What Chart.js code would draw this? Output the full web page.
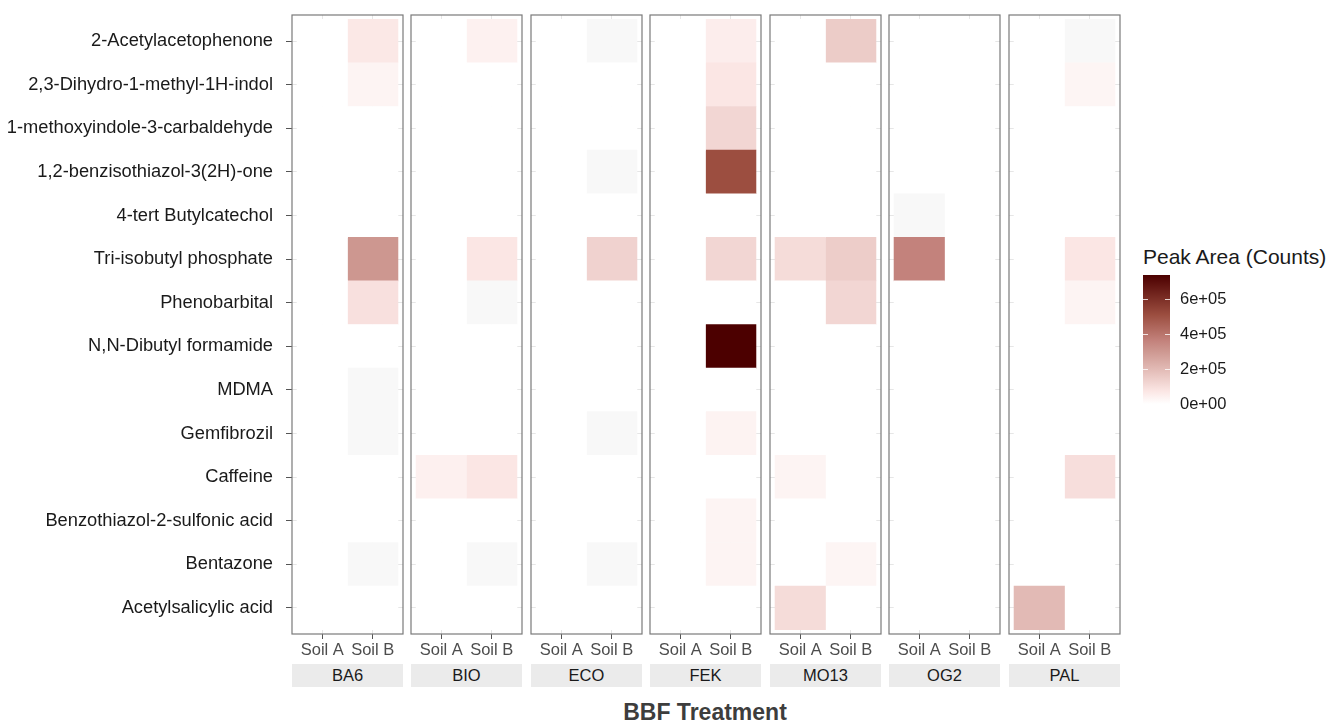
<!DOCTYPE html>
<html>

<head>
    <title>BBF Treatment peak areas</title>
    <script src="https://cdn.jsdelivr.net/npm/chart.js@4.4.1/dist/chart.umd.min.js"></script>
    <style>
        body {
            margin: 0;
            background-color: white;
            font-family: "Liberation Sans", Arial, sans-serif;
        }

        #wrap {
            position: relative;
            width: 1328px;
            height: 725px;
            overflow: hidden;
        }

        #wrap canvas {
            position: absolute;
        }

        .strip {
            position: absolute;
            top: 664px;
            height: 23px;
            line-height: 23px;
            background-color: #ebebeb;
            color: #1a1a1a;
            font-size: 16.5px;
            text-align: center;
        }

        #xtitle {
            position: absolute;
            left: 505px;
            width: 400px;
            top: 699px;
            line-height: 26px;
            text-align: center;
            font-size: 23px;
            font-weight: bold;
            color: #3d3d3d;
        }

        #legtitle {
            position: absolute;
            left: 1143px;
            top: 244px;
            line-height: 26px;
            font-size: 21px;
            color: #1a1a1a;
            white-space: nowrap;
        }
    </style>
</head>

<body>
    <div id="wrap">
        <div id="xtitle">BBF Treatment</div>
        <div id="legtitle">Peak Area (Counts)</div>
    </div>

    <script>
        const compounds = ['2-Acetylacetophenone', '2,3-Dihydro-1-methyl-1H-indol', '1-methoxyindole-3-carbaldehyde',
            '1,2-benzisothiazol-3(2H)-one', '4-tert Butylcatechol', 'Tri-isobutyl phosphate', 'Phenobarbital',
            'N,N-Dibutyl formamide', 'MDMA', 'Gemfibrozil', 'Caffeine', 'Benzothiazol-2-sulfonic acid', 'Bentazone',
            'Acetylsalicylic acid']
        const treatments = ['BA6', 'BIO', 'ECO', 'FEK', 'MO13', 'OG2', 'PAL']
        const soils = ['Soil A', 'Soil B']
        const legendTicks = [0, 200000, 400000, 600000]

        // peak area per compound, same order as compounds; null = NA (grey tile)
        const ba6SoilA = [0, 0, 0, 0, 0, 0, 0, 0, 0, 0, 0, 0, 0, 0]
        const ba6SoilB = [67000, 32000, 0, 0, 0, 303000, 90000, 0, null, null, 0, 0, null, 0]
        const bioSoilA = [0, 0, 0, 0, 0, 0, 0, 0, 0, 0, 44000, 0, 0, 0]
        const bioSoilB = [41000, 0, 0, 0, 0, 73000, null, 0, 0, 0, 73000, 0, null, 0]
        const ecoSoilA = [0, 0, 0, 0, 0, 0, 0, 0, 0, 0, 0, 0, 0, 0]
        const ecoSoilB = [null, 0, 0, null, 0, 131000, 0, 0, 0, null, 0, 0, null, 0]
        const fekSoilA = [0, 0, 0, 0, 0, 0, 0, 0, 0, 0, 0, 0, 0, 0]
        const fekSoilB = [52000, 73000, 120000, 509000, 0, 120000, 0, 738000, 0, 35000, 0, 32000, 32000, 0]
        const mo13SoilA = [0, 0, 0, 0, 0, 102000, 0, 0, 0, 0, 32000, 0, 0, 102000]
        const mo13SoilB = [149000, 0, 0, 0, 0, 146000, 120000, 0, 0, 0, 0, 0, 30000, 0]
        const og2SoilA = [0, 0, 0, 0, null, 362000, 0, 0, 0, 0, 0, 0, 0, 0]
        const og2SoilB = [0, 0, 0, 0, 0, 0, 0, 0, 0, 0, 0, 0, 0, 0]
        const palSoilA = [0, 0, 0, 0, 0, 0, 0, 0, 0, 0, 0, 0, 0, 200000]
        const palSoilB = [null, 29000, 0, 0, 0, 73000, 32000, 0, 0, 0, 96000, 0, 0, 0]

        const panelSeries = [
            [ba6SoilA, ba6SoilB], [bioSoilA, bioSoilB], [ecoSoilA, ecoSoilB], [fekSoilA, fekSoilB],
            [mo13SoilA, mo13SoilB], [og2SoilA, og2SoilB], [palSoilA, palSoilB]
        ]
        const peakMax = Math.max(...panelSeries.flat(2).filter(v => v !== null))

        // fill scale, fraction of max -> rgb
        const colorStops = [
            [0, [255, 255, 255]], [0.10, [251, 230, 228]], [0.27, [226, 186, 181]], [0.41, [205, 151, 144]],
            [0.49, [195, 130, 124]], [0.69, [156, 78, 64]], [1, [76, 0, 0]]
        ]
        const naColor = '#f8f8f8'

        function fillFor(v) {
            if (v === null || v === undefined) return naColor
            const f = Math.max(0, Math.min(1, v / peakMax))
            for (let i = 1; i < colorStops.length; i++) {
                const [f0, c0] = colorStops[i - 1]
                const [f1, c1] = colorStops[i]
                if (f <= f1) {
                    const t = (f - f0) / (f1 - f0)
                    return 'rgb(' + c0.map((c, k) => Math.round(c + (c1[k] - c) * t)).join(',') + ')'
                }
            }
            return 'rgb(' + colorStops[colorStops.length - 1][1].join(',') + ')'
        }

        Chart.defaults.font.family = '"Liberation Sans", Arial, sans-serif'

        // no extra room for overhanging tick labels, the layout is fixed
        function noPad(axis) {
            axis.paddingTop = 0
            axis.paddingBottom = 0
            axis.paddingLeft = 0
            axis.paddingRight = 0
        }

        const panelBorder = {
            id: 'panelBorder',
            afterDraw(chart) {
                const { ctx, chartArea: a } = chart
                ctx.save()
                ctx.strokeStyle = '#7a7a7a'
                ctx.lineWidth = 1.2
                ctx.strokeRect(a.left, a.top, a.width, a.height)
                ctx.restore()
            }
        }

        const wrap = document.getElementById('wrap')
        const panelWidth = 111
        const labelWidth = 292

        treatments.forEach((name, p) => {
            const first = p === 0
            const left = Math.round(291.8 + p * 119.45)
            const canvas = document.createElement('canvas')
            canvas.width = first ? labelWidth + panelWidth + 6 : panelWidth + 12
            canvas.height = 662
            canvas.style.left = (first ? 0 : left - 6) + 'px'
            canvas.style.top = '0px'
            wrap.appendChild(canvas)

            const strip = document.createElement('div')
            strip.className = 'strip'
            strip.style.left = left + 'px'
            strip.style.width = panelWidth + 'px'
            strip.textContent = name
            wrap.appendChild(strip)

            const datasets = soils.map((soil, s) => ({
                label: soil,
                grouped: false,
                barPercentage: 1,
                categoryPercentage: 1,
                borderWidth: 0,
                data: compounds.map((c, r) => ({
                    y: compounds.length - r,
                    x: [s + 0.5, s + 1.5],
                    v: panelSeries[p][s][r]
                })),
                backgroundColor: (ctx) => ctx.raw ? fillFor(ctx.raw.v) : '#ffffff'
            }))

            new Chart(canvas, {
                type: 'bar',
                data: { datasets: datasets },
                options: {
                    indexAxis: 'y',
                    responsive: false,
                    animation: false,
                    devicePixelRatio: 1,
                    layout: { padding: { left: first ? 0 : 6, right: 6, top: 15, bottom: 0 } },
                    plugins: { legend: { display: false }, tooltip: { enabled: false } },
                    scales: {
                        x: {
                            type: 'linear',
                            min: 0.4,
                            max: 2.6,
                            beginAtZero: false,
                            afterBuildTicks: (axis) => { axis.ticks = soils.map((s, i) => ({ value: i + 1 })) },
                            afterFit: (axis) => { axis.height = 28; noPad(axis) },
                            grid: { color: '#e6e6e6', tickColor: '#555555', tickLength: 5, lineWidth: 1, offset: false },
                            border: { display: false },
                            ticks: {
                                padding: 2,
                                color: '#4d4d4d',
                                font: { size: 16.5 },
                                maxRotation: 0,
                                autoSkip: false,
                                callback: (v) => soils[v - 1]
                            }
                        },
                        y: {
                            type: 'linear',
                            offset: false,
                            min: 0.4,
                            max: compounds.length + 0.6,
                            afterBuildTicks: (axis) => { axis.ticks = compounds.map((c, i) => ({ value: i + 1 })) },
                            afterFit: (axis) => { axis.width = first ? labelWidth : 0; noPad(axis) },
                            grid: {
                                color: '#e6e6e6', tickColor: '#555555', lineWidth: 1, offset: false,
                                drawTicks: first, tickLength: 6
                            },
                            border: { display: false },
                            ticks: {
                                display: first,
                                autoSkip: false,
                                padding: 13,
                                color: '#1a1a1a',
                                font: { size: 18.3 },
                                callback: (v) => compounds[compounds.length - v]
                            }
                        }
                    }
                },
                plugins: [panelBorder]
            })
        })

        // colour bar legend
        const barTicks = {
            id: 'barTicks',
            afterDatasetsDraw(chart) {
                const { ctx, chartArea: a, scales: { y } } = chart
                ctx.save()
                ctx.strokeStyle = 'rgba(255,255,255,0.8)'
                ctx.lineWidth = 1
                y.ticks.forEach(t => {
                    const py = Math.round(y.getPixelForValue(t.value)) + 0.5
                    ctx.beginPath()
                    ctx.moveTo(a.left, py); ctx.lineTo(a.left + 5, py)
                    ctx.moveTo(a.right - 5, py); ctx.lineTo(a.right, py)
                    ctx.stroke()
                })
                ctx.restore()
            }
        }

        const legCanvas = document.createElement('canvas')
        legCanvas.width = 120
        legCanvas.height = 151
        legCanvas.style.left = '1140px'
        legCanvas.style.top = '263px'
        wrap.appendChild(legCanvas)

        new Chart(legCanvas, {
            type: 'bar',
            data: {
                labels: [''],
                datasets: [{
                    data: [[0, peakMax]],
                    barPercentage: 1,
                    categoryPercentage: 1,
                    borderWidth: 0,
                    backgroundColor: (ctx) => {
                        const area = ctx.chart.chartArea
                        if (!area) return '#ffffff'
                        const g = ctx.chart.ctx.createLinearGradient(0, area.bottom, 0, area.top)
                        colorStops.forEach(([f, rgb]) => g.addColorStop(f, 'rgb(' + rgb.join(',') + ')'))
                        return g
                    }
                }]
            },
            options: {
                responsive: false,
                animation: false,
                devicePixelRatio: 1,
                layout: { padding: { left: 3, right: 0, top: 12, bottom: 10 } },
                plugins: { legend: { display: false }, tooltip: { enabled: false } },
                scales: {
                    x: { display: false },
                    y: {
                        position: 'right',
                        min: 0,
                        max: peakMax,
                        afterBuildTicks: (axis) => { axis.ticks = legendTicks.map(v => ({ value: v })) },
                        afterFit: (axis) => { axis.width = 90; noPad(axis) },
                        grid: { display: false, drawTicks: false },
                        border: { display: false },
                        ticks: {
                            padding: 10,
                            color: '#1a1a1a',
                            font: { size: 16.5 },
                            callback: (v) => v.toExponential(0).replace(/e([+-])(\d+)$/, (m, s, d) => 'e' + s + d.padStart(2, '0'))
                        }
                    }
                }
            },
            plugins: [barTicks]
        })
    </script>
</body>

</html>
